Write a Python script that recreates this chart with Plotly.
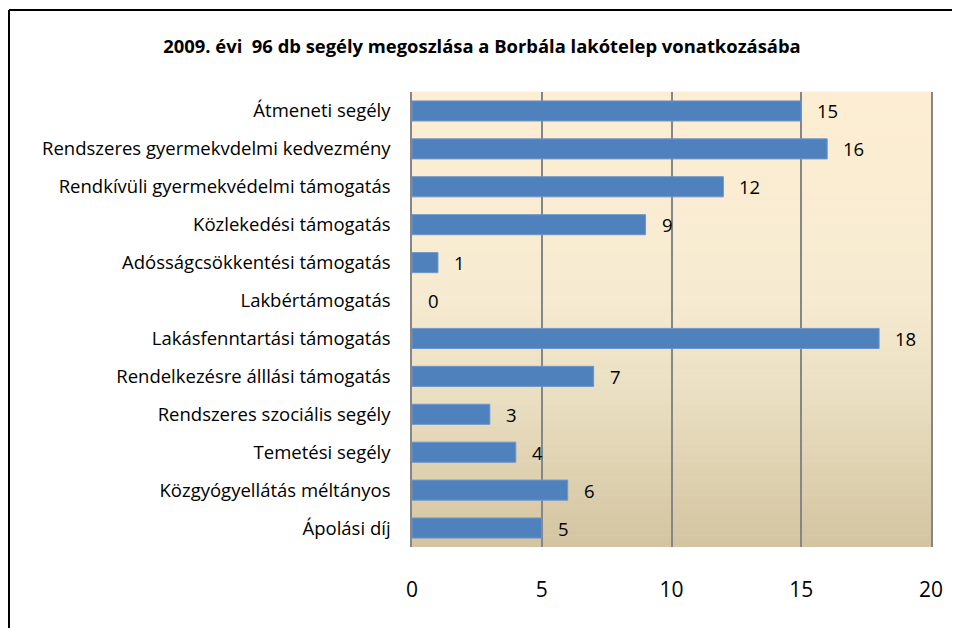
import plotly.graph_objects as go

categories = [
    "Átmeneti segély",
    "Rendszeres gyermekvdelmi kedvezmény",
    "Rendkívüli gyermekvédelmi támogatás",
    "Közlekedési támogatás",
    "Adósságcsökkentési támogatás",
    "Lakbértámogatás",
    "Lakásfenntartási támogatás",
    "Rendelkezésre álllási támogatás",
    "Rendszeres szociális segély",
    "Temetési segély",
    "Közgyógyellátás méltányos",
    "Ápolási díj",
]
values = [15, 16, 12, 9, 1, 0, 18, 7, 3, 4, 6, 5]
x_ticks = [0, 5, 10, 15, 20]
title_text = "2009. évi  96 db segély megoszlása a Borbála lakótelep vonatkozásába"

FONT = "Open Sans"
OFF = 8  # page body margin
W, H = 960 - OFF, 628 - OFF
L = 412 - OFF
T = 92 - OFF
R = W - (931 - OFF)
B = H - (547 - OFF)
pw, ph = W - L - R, H - T - B

def px2x(px):
    return (px - OFF - L) / pw

def py2y(py):
    return (H - B - (py - OFF)) / ph

fig = go.Figure()
fig.add_trace(go.Bar(
    x=values, y=categories, orientation="h",
    marker=dict(color="#4F81BD",
                line=dict(color="#7096C8", width=[1 if v > 0 else 0 for v in values])),
    width=0.53, hoverinfo="x+y",
))

for c, v in zip(categories, values):
    fig.add_annotation(x=v, y=c, xref="x", yref="y", text=str(v), showarrow=False,
                       xanchor="left", xshift=14, font=dict(family=FONT, size=18.5, color="black"))

# gradient background
stops = [(0.0, (253, 238, 211)), (0.45, (246, 235, 209)), (0.7, (232, 221, 191)), (1.0, (211, 196, 160))]
def col(t):
    for (t0, c0), (t1, c1) in zip(stops[:-1], stops[1:]):
        if t0 <= t <= t1:
            f = (t - t0) / (t1 - t0) if t1 > t0 else 0
            return "rgb(%d,%d,%d)" % tuple(round(a + (b - a) * f) for a, b in zip(c0, c1))
    return "rgb(%d,%d,%d)" % stops[-1][1]

N = 80
shapes = []
for i in range(N):
    t = (i + 0.5) / N
    shapes.append(dict(type="rect", xref="paper", yref="paper", x0=0, x1=1,
                       y0=1 - (i + 1) / N, y1=1 - i / N + 0.001,
                       fillcolor=col(t), line=dict(width=0), layer="below"))
# outer frame (left and top)
shapes.append(dict(type="line", xref="paper", yref="paper", x0=px2x(9), x1=px2x(9),
                   y0=py2y(640), y1=py2y(10), line=dict(color="black", width=2)))
shapes.append(dict(type="line", xref="paper", yref="paper", x0=px2x(9), x1=px2x(970),
                   y0=py2y(10), y1=py2y(10), line=dict(color="black", width=2)))

fig.update_layout(
    width=W, height=H,
    margin=dict(l=L, r=R, t=T, b=B),
    paper_bgcolor="white", plot_bgcolor="rgba(0,0,0,0)",
    showlegend=False,
    shapes=shapes,
    title=dict(text="<b>" + title_text + "</b>", x=(482 - OFF) / W, xanchor="center",
               y=1 - (47 - OFF) / H, yanchor="middle", font=dict(family=FONT, size=18.4, color="black")),
    xaxis=dict(range=[0, 20], tickvals=x_ticks, showgrid=True, gridcolor="#868686", gridwidth=1.5,
               zeroline=False, showline=False, ticks="", ticklabelstandoff=28,
               tickfont=dict(family=FONT, size=21, color="black")),
    yaxis=dict(categoryorder="array", categoryarray=categories[::-1], showgrid=False,
               showline=True, mirror=True, linecolor="#868686", linewidth=1.5,
               ticks="", ticklabelstandoff=16, tickfont=dict(family=FONT, size=18.5, color="black")),
)

fig.write_html("out.html")
